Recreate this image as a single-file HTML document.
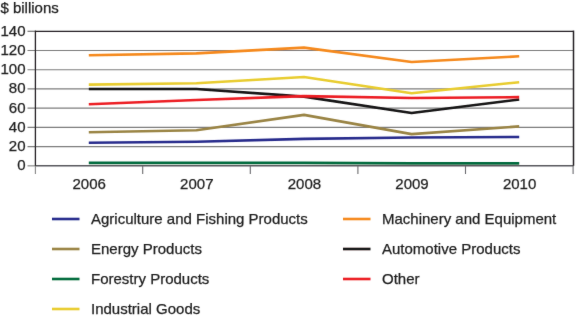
<!DOCTYPE html>
<html><head><meta charset="utf-8"><style>
html,body{margin:0;padding:0;background:#fff;width:580px;height:324px;overflow:hidden}
svg{display:block;will-change:transform}
text{font-family:"Liberation Sans",sans-serif;font-size:15px;fill:#1c1c1c;stroke:#1c1c1c;stroke-width:0.25px}
</style></head><body>
<svg width="580" height="324" viewBox="0 0 580 324">
<defs><filter id="b" x="-5%" y="-20%" width="110%" height="140%"><feConvolveMatrix order="3" kernelMatrix="0.01 0.05 0.01 0.05 0.76 0.05 0.01 0.05 0.01" preserveAlpha="false"/></filter></defs>
<rect width="580" height="324" fill="#fff"/>
<g filter="url(#b)">
<text transform="translate(0.4,12.6) scale(1,1)">$ billions</text>

<line x1="27.5" y1="146.59" x2="573.5" y2="146.59" stroke="#7c7c7c" stroke-width="1.2"/>
<line x1="27.5" y1="127.37" x2="573.5" y2="127.37" stroke="#7c7c7c" stroke-width="1.2"/>
<line x1="27.5" y1="108.16" x2="573.5" y2="108.16" stroke="#7c7c7c" stroke-width="1.2"/>
<line x1="27.5" y1="88.94" x2="573.5" y2="88.94" stroke="#7c7c7c" stroke-width="1.2"/>
<line x1="27.5" y1="69.73" x2="573.5" y2="69.73" stroke="#7c7c7c" stroke-width="1.2"/>
<line x1="27.5" y1="50.51" x2="573.5" y2="50.51" stroke="#7c7c7c" stroke-width="1.2"/>
<line x1="27.5" y1="31.3" x2="35" y2="31.3" stroke="#707070" stroke-width="1.2"/>
<line x1="27.5" y1="165.8" x2="35" y2="165.8" stroke="#9a9a9a" stroke-width="1.4"/>

<line x1="35" y1="31.3" x2="573.5" y2="31.3" stroke="#231f20" stroke-width="1.35"/>
<line x1="35" y1="165.8" x2="573.5" y2="165.8" stroke="#58585c" stroke-width="1.6"/>
<line x1="35.4" y1="166" x2="35.4" y2="174" stroke="#858585" stroke-width="1.1"/>
<line x1="142.7" y1="166" x2="142.7" y2="174" stroke="#6a6a6e" stroke-width="1.1"/>
<line x1="250.3" y1="166" x2="250.3" y2="174" stroke="#6a6a6e" stroke-width="1.1"/>
<line x1="357.9" y1="166" x2="357.9" y2="174" stroke="#6a6a6e" stroke-width="1.1"/>
<line x1="465.5" y1="166" x2="465.5" y2="174" stroke="#6a6a6e" stroke-width="1.1"/>
<line x1="573.1" y1="166" x2="573.1" y2="174" stroke="#6a6a6e" stroke-width="1.1"/>

<line x1="35.4" y1="30.6" x2="35.4" y2="165.8" stroke="#231f20" stroke-width="1.3"/>
<line x1="573.5" y1="30.6" x2="573.5" y2="165.8" stroke="#231f20" stroke-width="1.5"/>
<polyline points="88.8,142.74 196.4,141.78 304.0,138.9 411.6,137.46 519.2,136.98" fill="none" stroke="#272a8c" stroke-width="2.6" stroke-linejoin="round"/>
<polyline points="88.8,132.18 196.4,130.25 304.0,114.88 411.6,134.1 519.2,126.41" fill="none" stroke="#9a8445" stroke-width="2.6" stroke-linejoin="round"/>
<polyline points="88.8,162.92 196.4,162.92 304.0,162.92 411.6,163.4 519.2,163.4" fill="none" stroke="#006b3c" stroke-width="2.6" stroke-linejoin="round"/>
<polyline points="88.8,84.62 196.4,83.18 304.0,76.93 411.6,93.27 519.2,82.22" fill="none" stroke="#e8cc2e" stroke-width="2.6" stroke-linejoin="round"/>
<polyline points="88.8,55.32 196.4,53.4 304.0,47.63 411.6,62.04 519.2,56.28" fill="none" stroke="#f5891b" stroke-width="2.6" stroke-linejoin="round"/>
<polyline points="88.8,88.94 196.4,88.94 304.0,96.63 411.6,112.96 519.2,99.51" fill="none" stroke="#141213" stroke-width="2.6" stroke-linejoin="round"/>
<polyline points="88.8,104.31 196.4,99.99 304.0,96.15 411.6,98.07 519.2,97.11" fill="none" stroke="#ec1b23" stroke-width="2.6" stroke-linejoin="round"/>

<text transform="translate(25.5,170.3) scale(1,1)" text-anchor="end">0</text>
<text transform="translate(25.5,151.09) scale(1,1)" text-anchor="end">20</text>
<text transform="translate(25.5,131.87) scale(1,1)" text-anchor="end">40</text>
<text transform="translate(25.5,112.66) scale(1,1)" text-anchor="end">60</text>
<text transform="translate(25.5,93.44) scale(1,1)" text-anchor="end">80</text>
<text transform="translate(25.5,74.23) scale(1,1)" text-anchor="end">100</text>
<text transform="translate(25.5,55.01) scale(1,1)" text-anchor="end">120</text>
<text transform="translate(25.5,35.8) scale(1,1)" text-anchor="end">140</text>

<text transform="translate(89.2,188.8) scale(1,1)" text-anchor="middle">2006</text>
<text transform="translate(196.8,188.8) scale(1,1)" text-anchor="middle">2007</text>
<text transform="translate(304.4,188.8) scale(1,1)" text-anchor="middle">2008</text>
<text transform="translate(412.0,188.8) scale(1,1)" text-anchor="middle">2009</text>
<text transform="translate(519.6,188.8) scale(1,1)" text-anchor="middle">2010</text>

<line x1="52" y1="219" x2="79.5" y2="219" stroke="#272a8c" stroke-width="2.6"/>
<text transform="translate(91,223.6) scale(1,1)">Agriculture and Fishing Products</text>
<line x1="52" y1="249" x2="79.5" y2="249" stroke="#9a8445" stroke-width="2.6"/>
<text transform="translate(91,253.6) scale(1,1)">Energy Products</text>
<line x1="52" y1="279" x2="79.5" y2="279" stroke="#006b3c" stroke-width="2.6"/>
<text transform="translate(91,283.6) scale(1,1)">Forestry Products</text>
<line x1="52" y1="309" x2="79.5" y2="309" stroke="#e8cc2e" stroke-width="2.6"/>
<text transform="translate(91,313.6) scale(1,1)">Industrial Goods</text>
<line x1="343" y1="219" x2="370.5" y2="219" stroke="#f5891b" stroke-width="2.6"/>
<text transform="translate(382,223.6) scale(1,1)">Machinery and Equipment</text>
<line x1="343" y1="249" x2="370.5" y2="249" stroke="#141213" stroke-width="2.6"/>
<text transform="translate(382,253.6) scale(1,1)">Automotive Products</text>
<line x1="343" y1="279" x2="370.5" y2="279" stroke="#ec1b23" stroke-width="2.6"/>
<text transform="translate(382,283.6) scale(1,1)">Other</text>

</g>
</svg>
</body></html>
